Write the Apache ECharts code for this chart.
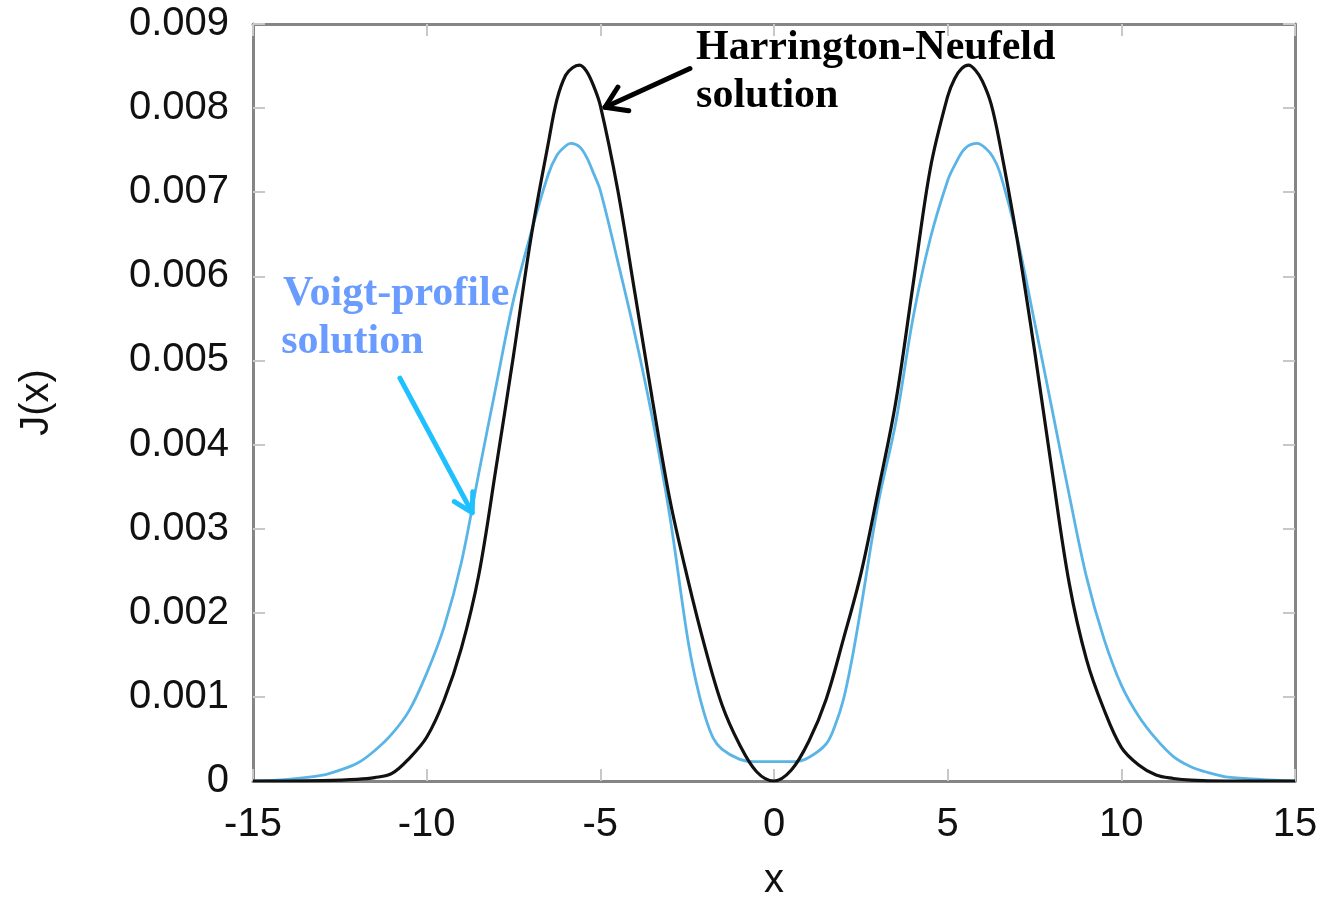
<!DOCTYPE html>
<html>
<head>
<meta charset="utf-8">
<script src="https://cdn.jsdelivr.net/npm/echarts@6/dist/echarts.min.js"></script>
<style>
  html, body { margin: 0; padding: 0; background: #ffffff; }
  #chart { width: 1324px; height: 899px; }
</style>
</head>
<body>
<div id="chart"></div>
<script>
// Mean intensity J(x) versus frequency offset x

// Harrington-Neufeld solution
const hnX = [-15, -14, -13, -12, -11.5, -11, -10.5, -10, -9.5, -9, -8.5, -8, -7.5, -7, -6.5, -6.25, -6, -5.8, -5.6, -5.4,
  -5.2, -5, -4.5, -4, -3.5, -3, -2.5, -2, -1.5, -1, -0.5, 0, 0.5, 1, 1.5, 2, 2.5, 3, 3.5, 4,
  4.5, 5, 5.2, 5.4, 5.6, 5.8, 6, 6.25, 6.5, 7, 7.5, 8, 8.5, 9, 9.5, 10, 10.5, 11, 11.5, 12,
  13, 14, 15];
const hnJ = [0, 0, 0.000005, 0.00002, 0.00004, 0.00009, 0.00027, 0.00052, 0.00096, 0.00158, 0.00245, 0.00373, 0.00506, 0.00645, 0.00758, 0.00810, 0.00839, 0.00848, 0.00851, 0.00844,
  0.00827, 0.00803, 0.00703, 0.00579, 0.00453, 0.00335, 0.00243, 0.00161, 0.00091, 0.00044, 0.00011, 0, 0.00013, 0.00047, 0.00097, 0.00169, 0.00246, 0.00345, 0.00449, 0.00589,
  0.00728, 0.00814, 0.00835, 0.00847, 0.00851, 0.00845, 0.00832, 0.00805, 0.00758, 0.00644, 0.00512, 0.00370, 0.00235, 0.00144, 0.00085, 0.00040, 0.00019, 0.00007, 0.00003, 0.00001,
  0, 0, 0];

// Voigt-profile solution
const vpX = [-15, -14, -13, -12.5, -12, -11.5, -11, -10.5, -10, -9.5, -9, -8.5, -8, -7.5, -7, -6.5, -6.25, -6, -5.85, -5.6,
  -5.4, -5.2, -5, -4.5, -4, -3.5, -3, -2.5, -2.25, -2, -1.75, -1.5, -1, -0.6, 0, 0.6, 1, 1.5, 1.75, 2,
  2.25, 2.5, 3, 3.5, 4, 4.5, 5, 5.2, 5.5, 5.85, 6.1, 6.3, 6.5, 7, 7.5, 8, 8.5, 9, 9.5, 10,
  10.5, 11, 11.5, 12, 12.5, 13, 14, 15];
const vpJ = [0, 0.00002, 0.00007, 0.00013, 0.00021, 0.00036, 0.00056, 0.00084, 0.00128, 0.00183, 0.00260, 0.00366, 0.00470, 0.00572, 0.00651, 0.00721, 0.00744, 0.00755, 0.00758, 0.00754,
  0.00742, 0.00723, 0.00702, 0.00618, 0.00530, 0.00431, 0.00315, 0.00173, 0.00119, 0.00079, 0.00051, 0.00038, 0.00026, 0.00023, 0.00023, 0.00023, 0.00028, 0.00044, 0.00065, 0.00097,
  0.00146, 0.00205, 0.00330, 0.00425, 0.00550, 0.00645, 0.00714, 0.00732, 0.00752, 0.00758, 0.00752, 0.00742, 0.00724, 0.00646, 0.00546, 0.00443, 0.00340, 0.00242, 0.00169, 0.00114,
  0.00077, 0.00050, 0.00029, 0.00017, 0.00010, 0.00005, 0.00002, 0];

// Axis ranges and tick steps
const xRange = [-15, 15];
const xStep = 5;
const yRange = [0, 0.009];
const yStep = 0.001;

// Annotation anchors, in data units
const hnLabel = { lines: ['Harrington-Neufeld', 'solution'], at: [[-2.244, 0.008716], [-2.244, 0.008145]] };
const hnArrow = { tail: [-2.42, 0.00847], tip: [-4.865, 0.00801] };
const vpLabel = { lines: ['Voigt-profile', 'solution'], at: [[-14.136, 0.00579], [-14.19, 0.00522]] };
const vpArrow = { tail: [-10.77, 0.00479], tip: [-8.69, 0.00319] };

const pairs = (xs, ys) => xs.map((x, i) => [x, ys[i]]);

const tickFont = { fontFamily: 'Liberation Sans, Arial, sans-serif', fontSize: 40, color: '#111' };
const frameLine = { show: true, onZero: false, lineStyle: { color: '#858585', width: 3 } };
const innerTick = { show: true, inside: true, length: 12, lineStyle: { color: '#c8c8c8', width: 2 } };

const chart = echarts.init(document.getElementById('chart'), null, { renderer: 'canvas' });

chart.setOption({
  animation: false,
  backgroundColor: '#ffffff',
  grid: { left: 253, right: 29, top: 24, bottom: 118, containLabel: false, outerBoundsMode: 'none' },
  xAxis: [
    {
      type: 'value', min: xRange[0], max: xRange[1], interval: xStep, position: 'bottom',
      axisLine: frameLine, axisTick: innerTick, splitLine: { show: false },
      axisLabel: Object.assign({ margin: 24 }, tickFont),
      name: 'x', nameLocation: 'middle', nameGap: 80,
      nameTextStyle: { fontFamily: 'Liberation Sans, Arial, sans-serif', fontSize: 40, color: '#111' }
    },
    {
      type: 'value', min: xRange[0], max: xRange[1], interval: xStep, position: 'top',
      axisLine: frameLine, axisTick: innerTick, splitLine: { show: false },
      axisLabel: { show: false }
    }
  ],
  yAxis: [
    {
      type: 'value', min: yRange[0], max: yRange[1], interval: yStep, position: 'left',
      axisLine: frameLine, axisTick: innerTick, splitLine: { show: false },
      axisLabel: Object.assign({ margin: 24, formatter: v => (v === 0 ? '0' : v.toFixed(3)) }, tickFont),
      name: 'J(x)', nameLocation: 'middle', nameGap: 196,
      nameTextStyle: { fontFamily: 'Liberation Sans, Arial, sans-serif', fontSize: 40, color: '#111' }
    },
    {
      type: 'value', min: yRange[0], max: yRange[1], interval: yStep, position: 'right',
      axisLine: frameLine, axisTick: innerTick, splitLine: { show: false },
      axisLabel: { show: false }
    }
  ],
  series: [
    {
      name: 'Voigt-profile solution', type: 'line', data: pairs(vpX, vpJ),
      xAxisIndex: 0, yAxisIndex: 0, showSymbol: false, smooth: 0.35,
      lineStyle: { color: '#5ab4e6', width: 2.8 }, z: 2
    },
    {
      name: 'Harrington-Neufeld solution', type: 'line', data: pairs(hnX, hnJ),
      xAxisIndex: 0, yAxisIndex: 0, showSymbol: false, smooth: 0.35,
      lineStyle: { color: '#111111', width: 3.2 }, z: 3
    }
  ]
});

// Annotations: labels and arrows positioned from data coordinates
function px(p) { return chart.convertToPixel({ xAxisIndex: 0, yAxisIndex: 0 }, p); }

function arrowShapes(spec, color, width, armLen, armDeg) {
  const tip = px(spec.tip), tail = px(spec.tail);
  const ang = Math.atan2(tail[1] - tip[1], tail[0] - tip[0]);
  const a = armDeg * Math.PI / 180;
  const arm1 = [tip[0] + armLen * Math.cos(ang + a), tip[1] + armLen * Math.sin(ang + a)];
  const arm2 = [tip[0] + armLen * Math.cos(ang - a), tip[1] + armLen * Math.sin(ang - a)];
  const style = { stroke: color, lineWidth: width, lineCap: 'round', lineJoin: 'round', fill: null };
  return [
    { type: 'line', shape: { x1: tail[0], y1: tail[1], x2: tip[0], y2: tip[1] }, style: style, z: 10 },
    { type: 'polyline', shape: { points: [arm1, tip, arm2] }, style: style, z: 10 }
  ];
}

function labelShapes(spec, color) {
  return spec.lines.map((t, i) => {
    const p = px(spec.at[i]);
    return {
      type: 'text', x: p[0], y: p[1], z: 10,
      style: {
        text: t, fill: color, fontFamily: 'Liberation Serif, Times New Roman, serif',
        fontWeight: 'bold', fontSize: 42, align: 'left', verticalAlign: 'middle'
      }
    };
  });
}

chart.setOption({
  graphic: [].concat(
    labelShapes(hnLabel, '#000000'),
    labelShapes(vpLabel, '#6a9bff'),
    arrowShapes(hnArrow, '#000000', 5, 24, 33),
    arrowShapes(vpArrow, '#1ec0ff', 5, 21, 30)
  )
});
</script>
</body>
</html>
